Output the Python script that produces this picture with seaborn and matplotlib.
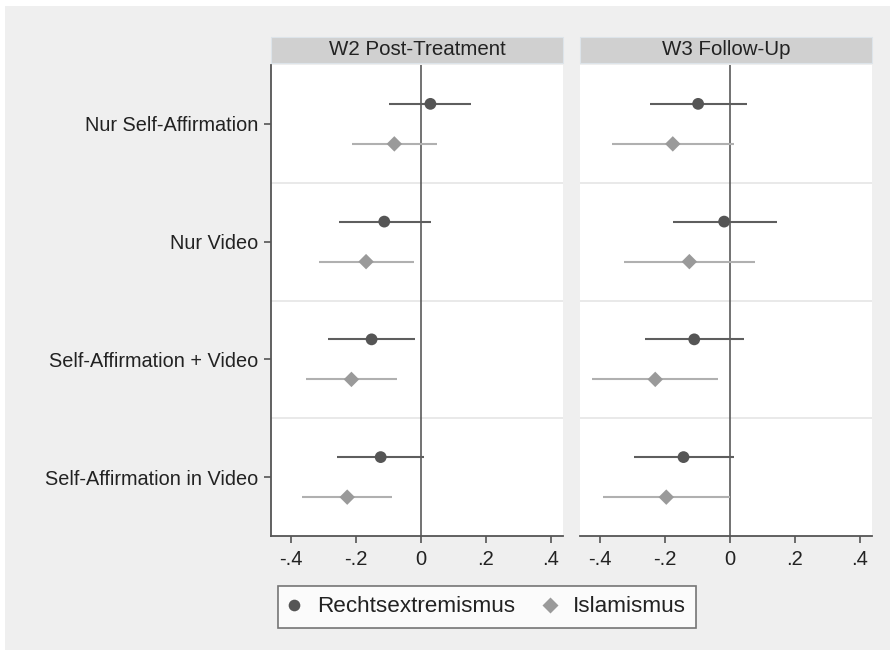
import numpy as np
import pandas as pd
import matplotlib
matplotlib.use("Agg")
import matplotlib.pyplot as plt
from matplotlib.patches import Rectangle
from matplotlib.lines import Line2D
import seaborn as sns

sns.set_theme(style="white")
plt.rcParams['font.family'] = ['Liberation Sans', 'DejaVu Sans']

# ---------------- data ----------------
categories = ["Nur Self-Affirmation", "Nur Video",
              "Self-Affirmation + Video", "Self-Affirmation in Video"]
panels = ["W2 Post-Treatment", "W3 Follow-Up"]
groups = ["Rechtsextremismus", "Islamismus"]

w2_rechts = [0.029, -0.113, -0.152, -0.124]
w2_rechts_lo = [-0.098, -0.252, -0.287, -0.259]
w2_rechts_hi = [0.154, 0.031, -0.018, 0.009]
w2_islam = [-0.082, -0.169, -0.214, -0.227]
w2_islam_lo = [-0.212, -0.314, -0.354, -0.366]
w2_islam_hi = [0.048, -0.021, -0.075, -0.088]

w3_rechts = [-0.098, -0.018, -0.110, -0.143]
w3_rechts_lo = [-0.246, -0.176, -0.262, -0.296]
w3_rechts_hi = [0.051, 0.144, 0.044, 0.011]
w3_islam = [-0.176, -0.125, -0.230, -0.196]
w3_islam_lo = [-0.364, -0.327, -0.425, -0.390]
w3_islam_hi = [0.011, 0.076, -0.037, 0.000]

x_ticks = [-0.4, -0.2, 0, 0.2, 0.4]
x_ticklabels = ["-.4", "-.2", "0", ".2", ".4"]

# ---------------- long table ----------------
series = {
    (panels[0], groups[0]): (w2_rechts, w2_rechts_lo, w2_rechts_hi),
    (panels[0], groups[1]): (w2_islam, w2_islam_lo, w2_islam_hi),
    (panels[1], groups[0]): (w3_rechts, w3_rechts_lo, w3_rechts_hi),
    (panels[1], groups[1]): (w3_islam, w3_islam_lo, w3_islam_hi),
}
offset = {groups[0]: -0.17, groups[1]: 0.17}
rows = []
for (pan, grp), (est, lo, hi) in series.items():
    for i, cat in enumerate(categories):
        rows.append(dict(panel=pan, group=grp, category=cat,
                         estimate=est[i], lo=lo[i], hi=hi[i],
                         ypos=i + 1 + offset[grp]))
df = pd.DataFrame(rows)

marker_col = {groups[0]: "#555555", groups[1]: "#9a9a9a"}
line_col = {groups[0]: "#5e5e5e", groups[1]: "#b0b0b0"}
markers = {groups[0]: "o", groups[1]: "D"}
sizes = {groups[0]: 72, groups[1]: 62}

# ---------------- figure ----------------
W, H = 890, 655
fig = plt.figure(figsize=(W / 100, H / 100), dpi=100)
fig.patch.set_facecolor("white")
fig.patches.append(Rectangle((5 / W, 5 / H), 1 - 5 / W, 1 - 11 / H,
                             transform=fig.transFigure, facecolor="#efefef",
                             edgecolor="none", zorder=-10))

ax_y0 = 1 - 536 / H
ax_h = (536 - 65) / H
lefts = [271 / W, 580 / W]
widths = [292 / W, 292 / W]

spine_col = "#555555"
for k, pan in enumerate(panels):
    ax = fig.add_axes([lefts[k], ax_y0, widths[k], ax_h])
    ax.set_facecolor("white")
    sub = df[df.panel == pan]

    # separators between categories
    for b in [1.5, 2.5, 3.5]:
        ax.axhline(b, color="#e9e9e9", lw=1.4, zorder=0)
    # zero reference line
    ax.axvline(0, color="#5a5a5a", lw=1.2, zorder=1)

    # confidence intervals
    for grp in groups:
        g = sub[sub.group == grp]
        ax.hlines(g.ypos, g.lo, g.hi, color=line_col[grp], lw=1.5, zorder=2)

    for grp in groups:
        g = sub[sub.group == grp]
        sns.scatterplot(data=g, x="estimate", y="ypos", ax=ax,
                        color=marker_col[grp], marker=markers[grp],
                        s=sizes[grp], edgecolor="none", legend=False, zorder=3)

    ax.set_xlim(-0.4615, 0.437)
    ax.set_ylim(4.5, 0.5)
    ax.set_xlabel("")
    ax.set_ylabel("")
    ax.set_xticks(x_ticks)
    ax.set_xticklabels(x_ticklabels, fontsize=14.5, color="#222222")
    ax.tick_params(axis="x", direction="out", length=5, width=1.2,
                   color=spine_col, pad=5, bottom=True)
    for s in ["top", "right"]:
        ax.spines[s].set_visible(False)
    ax.spines["bottom"].set_color(spine_col)
    ax.spines["bottom"].set_linewidth(1.3)
    if k == 0:
        ax.set_yticks(range(1, len(categories) + 1))
        ax.set_yticklabels(categories, fontsize=14.3, color="#222222")
        ax.tick_params(axis="y", direction="out", length=5, width=1.2,
                       color=spine_col, pad=4, left=True)
        ax.spines["left"].set_color(spine_col)
        ax.spines["left"].set_linewidth(1.3)
    else:
        ax.set_yticks([])
        ax.spines["left"].set_visible(False)

    # strip header
    ax.add_patch(Rectangle((0, 1.004), 1, 0.056, transform=ax.transAxes,
                           facecolor="#d0d0d0", edgecolor="#dde4ea", lw=0.8,
                           clip_on=False, zorder=5))
    ax.text(0.5, 1.032, pan, transform=ax.transAxes, ha="center", va="center",
            fontsize=14.8, color="#222222", zorder=6)

# legend
handles = [Line2D([], [], linestyle="none", marker="o", markersize=8.4,
                  markerfacecolor=marker_col[groups[0]], markeredgecolor="none"),
           Line2D([], [], linestyle="none", marker="D", markersize=7.9,
                  markerfacecolor=marker_col[groups[1]], markeredgecolor="none")]
leg = fig.legend(handles, groups, loc="center",
                 bbox_to_anchor=(487 / W, 1 - 607 / H),
                 ncol=2, frameon=True, fancybox=False, fontsize=16.2,
                 handlelength=0.55, handletextpad=0.75, columnspacing=1.25,
                 borderpad=0.45, borderaxespad=0)
leg.get_frame().set_edgecolor("#555555")
leg.get_frame().set_linewidth(1.2)
leg.get_frame().set_facecolor("white")
for t in leg.get_texts():
    t.set_color("#222222")

fig.savefig("out.png", dpi=100, facecolor=fig.get_facecolor())
